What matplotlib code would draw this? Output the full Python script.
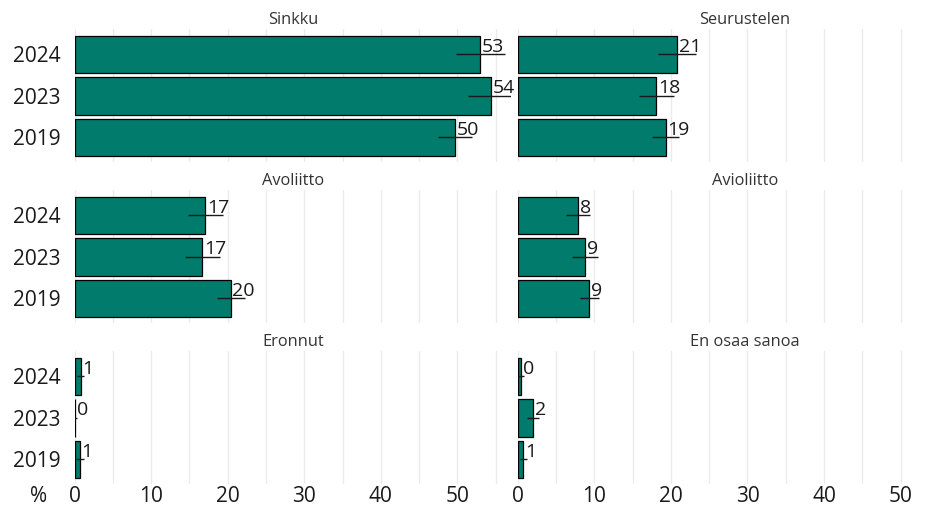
import matplotlib.pyplot as plt
from matplotlib.ticker import MultipleLocator

plt.rcParams['font.family'] = ['Open Sans', 'DejaVu Sans']

years = ['2024', '2023', '2019']
groups = ['Sinkku', 'Seurustelen', 'Avoliitto', 'Avioliitto', 'Eronnut', 'En osaa sanoa']

sinkku = [53.0, 54.4, 49.7]
seurustelen = [20.8, 18.1, 19.3]
avoliitto = [17.1, 16.7, 20.4]
avioliitto = [7.9, 8.8, 9.35]
eronnut = [0.8, 0.1, 0.7]
en_osaa = [0.45, 2.0, 0.75]

# margin of error (half width)
sinkku_err = [3.15, 3.0, 2.2]
seurustelen_err = [2.5, 2.3, 1.8]
avoliitto_err = [2.3, 2.3, 1.8]
avioliitto_err = [1.6, 1.65, 1.25]
eronnut_err = [0.5, 0.2, 0.5]
en_osaa_err = [0.35, 0.8, 0.45]

values = [sinkku, seurustelen, avoliitto, avioliitto, eronnut, en_osaa]
errors = [sinkku_err, seurustelen_err, avoliitto_err, avioliitto_err, eronnut_err, en_osaa_err]

green = '#007b6c'
W, H = 936, 507
fig = plt.figure(figsize=(W / 100, H / 100), dpi=100)

col_x = [74.5, 517.7]
row_top = [29.3, 190.3, 351.3]
ax_w = 436.6
ax_h = 133

y = list(range(len(years)))

for i, name in enumerate(groups):
    r, c = divmod(i, 2)
    ax = fig.add_axes([col_x[c] / W, 1 - (row_top[r] + ax_h) / H, ax_w / W, ax_h / H])
    ax.barh(y, values[i], height=0.9, color=green, edgecolor='black', linewidth=0.9, zorder=2)
    ax.errorbar(values[i], y, xerr=errors[i], fmt='none', ecolor='#1a1a1a',
                elinewidth=1.0, capsize=0, zorder=3)
    for v, yy in zip(values[i], y):
        ax.annotate(f'{round(v)}', xy=(v, yy), xytext=(1.2, 1.8), textcoords='offset points',
                    ha='left', va='baseline', fontsize=14, color='#1a1a1a', zorder=4)
    ax.set_xlim(0, 57)
    ax.set_ylim(2.6, -0.6)
    ax.xaxis.set_major_locator(MultipleLocator(10))
    ax.xaxis.set_minor_locator(MultipleLocator(5))
    ax.grid(True, axis='x', which='both', color='#ebebeb', linewidth=1.0, zorder=0)
    ax.set_axisbelow(True)
    for s in ax.spines.values():
        s.set_visible(False)
    ax.tick_params(axis='both', which='both', length=0)
    ax.tick_params(axis='x', pad=1.5, labelsize=15, colors='#1a1a1a')
    ax.set_xticks(range(0, 51, 10))
    if r < 2:
        ax.tick_params(axis='x', labelbottom=False)
    if c == 0:
        ax.set_yticks(y)
        ax.set_yticklabels(years)
        ax.tick_params(axis='y', pad=10, labelsize=15, colors='#1a1a1a')
        ax.set_title(name, fontsize=11.8, color='#333333', pad=4)
    else:
        ax.set_yticks([])
        ax.set_title(name, fontsize=11.8, color='#333333', pad=4, x=0.52)

fig.text(39 / W, 1 - 485.8 / H, '%', ha='center', va='top', fontsize=15, color='#1a1a1a')

fig.savefig('out.png', dpi=100)
